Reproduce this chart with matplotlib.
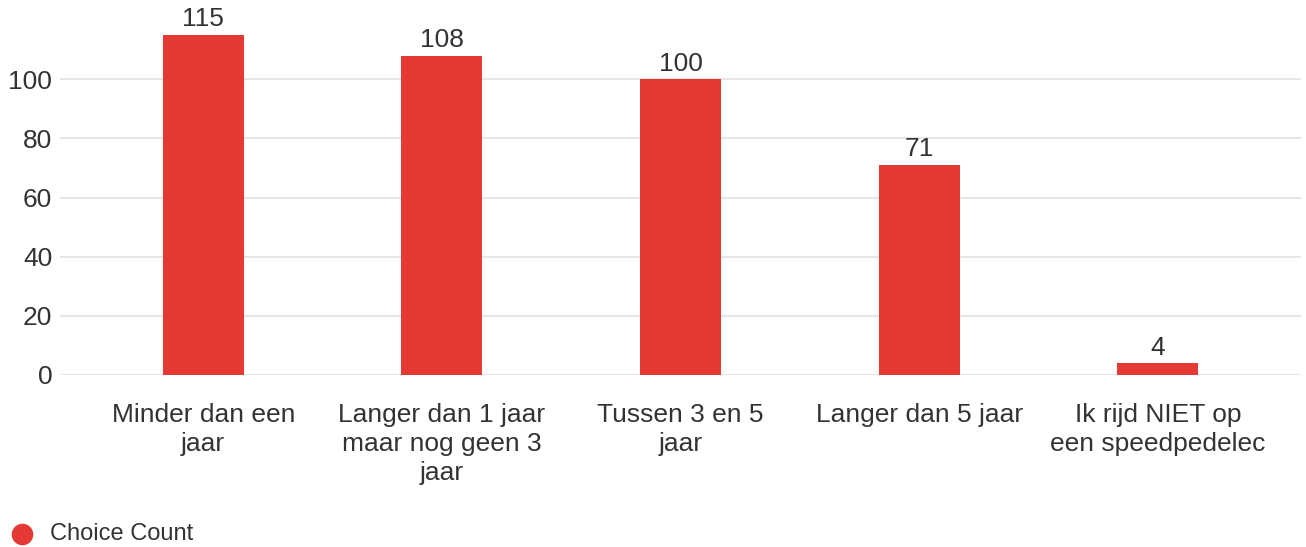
import matplotlib

matplotlib.use("Agg")
from matplotlib import pyplot as plt
from matplotlib.lines import Line2D

categories = [
    "Minder dan een\njaar",
    "Langer dan 1 jaar\nmaar nog geen 3\njaar",
    "Tussen 3 en 5\njaar",
    "Langer dan 5 jaar",
    "Ik rijd NIET op\neen speedpedelec",
]
choice_count = [115, 108, 100, 71, 4]
y_ticks = [0, 20, 40, 60, 80, 100]

BAR_COLOR = "#e53935"
TEXT_COLOR = "#333333"
GRID_COLOR = "#e6e6e6"
FONT_SIZE = 19

plt.rcParams["font.family"] = ["Liberation Sans", "DejaVu Sans"]

W, H = 1306, 547
fig = plt.figure(figsize=(W / 100, H / 100), dpi=100)
ax = fig.add_axes([60 / W, 172 / H, 1241 / W, 355 / H])

positions = list(range(len(categories)))
bars = ax.bar(positions, choice_count, width=0.34, color=BAR_COLOR, zorder=3)
ax.bar_label(bars, padding=2.5, fontsize=FONT_SIZE, color=TEXT_COLOR)

ax.set_xlim(-0.6, len(categories) - 0.4)
ax.set_ylim(0, 120)
ax.set_yticks(y_ticks)
ax.set_xticks(positions)
ax.set_xticklabels(categories, fontsize=FONT_SIZE, color=TEXT_COLOR, linespacing=1.26)
ax.tick_params(axis="x", length=0, pad=20)
ax.tick_params(axis="y", length=0, pad=5.5, labelsize=FONT_SIZE, labelcolor=TEXT_COLOR)

ax.grid(axis="y", color=GRID_COLOR, linewidth=1.5, zorder=0)
for spine in ax.spines.values():
    spine.set_visible(False)

# legend drawn by hand: red dot + label at the bottom left
fig.add_artist(Line2D([22 / W], [1 - 534 / H], transform=fig.transFigure,
                      marker="o", markersize=14.5, linestyle="none",
                      markerfacecolor=BAR_COLOR, markeredgecolor=BAR_COLOR))
fig.text(50 / W, 1 - 534 / H, "Choice Count", fontsize=17,
         color=TEXT_COLOR, va="center", ha="left")

fig.savefig("out.png", dpi=100, facecolor="white")
